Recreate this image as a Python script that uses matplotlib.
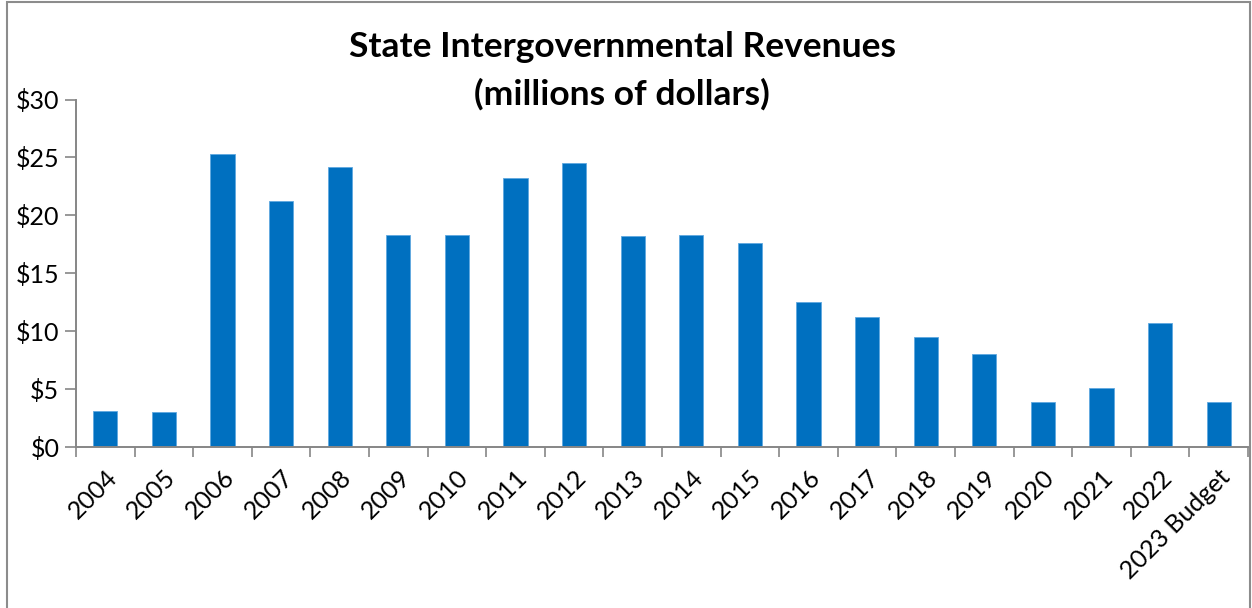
import numpy as np
import matplotlib.pyplot as plt
from matplotlib.patches import Rectangle
from matplotlib.ticker import FixedLocator, FuncFormatter

years = ['2004', '2005', '2006', '2007', '2008', '2009', '2010', '2011', '2012', '2013',
         '2014', '2015', '2016', '2017', '2018', '2019', '2020', '2021', '2022', '2023 Budget']
revenues = [3.13, 3.05, 25.3, 21.2, 24.2, 18.3, 18.3, 23.2, 24.5, 18.2,
            18.3, 17.6, 12.5, 11.2, 9.5, 8.0, 3.85, 5.1, 10.7, 3.85]
y_ticks = [0, 5, 10, 15, 20, 25, 30]

plt.rcParams['font.family'] = ['Lato', 'DejaVu Sans']
axis_grey = '#868686'

fig = plt.figure(figsize=(12.52, 6.08), dpi=100)
ax = fig.add_axes([76 / 1252, 1 - 447 / 608, 1172 / 1252, 347.5 / 608])

x = np.arange(len(years))
ax.bar(x, revenues, width=0.41, color='#0070C0', edgecolor='#5fa8e0', linewidth=0.6)

ax.set_xlim(-0.5, len(years) - 0.5)
ax.set_ylim(0, 30)
ax.set_yticks(y_ticks)
ax.yaxis.set_major_formatter(FuncFormatter(lambda v, p: '$%d' % v))
ax.tick_params(axis='y', labelsize=18, length=8, width=1.2, color=axis_grey, pad=4)

# category labels at centers, tick marks at boundaries
ax.set_xticks(x)
ax.set_xticklabels(years, rotation=45, ha='right', rotation_mode='anchor', fontsize=18)
ax.tick_params(axis='x', which='major', length=0, pad=13)
ax.xaxis.set_minor_locator(FixedLocator(np.arange(-0.5, len(years), 1.0)))
ax.tick_params(axis='x', which='minor', length=7, width=1.2, color=axis_grey)

for side in ['top', 'right']:
    ax.spines[side].set_visible(False)
for side in ['left', 'bottom']:
    ax.spines[side].set_color(axis_grey)
    ax.spines[side].set_linewidth(1.4)

fig.text(0.497, 1 - 47 / 608, 'State Intergovernmental Revenues', ha='center', va='center',
         fontsize=25.5, fontweight='bold')
fig.text(0.497, 1 - 94 / 608, '(millions of dollars)', ha='center', va='center',
         fontsize=25.5, fontweight='bold')

# chart area border
fig.patches.append(Rectangle((7 / 1252, -0.05), 1243 / 1252, 1.05 - 2 / 608,
                             transform=fig.transFigure, fill=False,
                             edgecolor='#8c8c8c', linewidth=1.5))

fig.savefig('out.png', dpi=100)
